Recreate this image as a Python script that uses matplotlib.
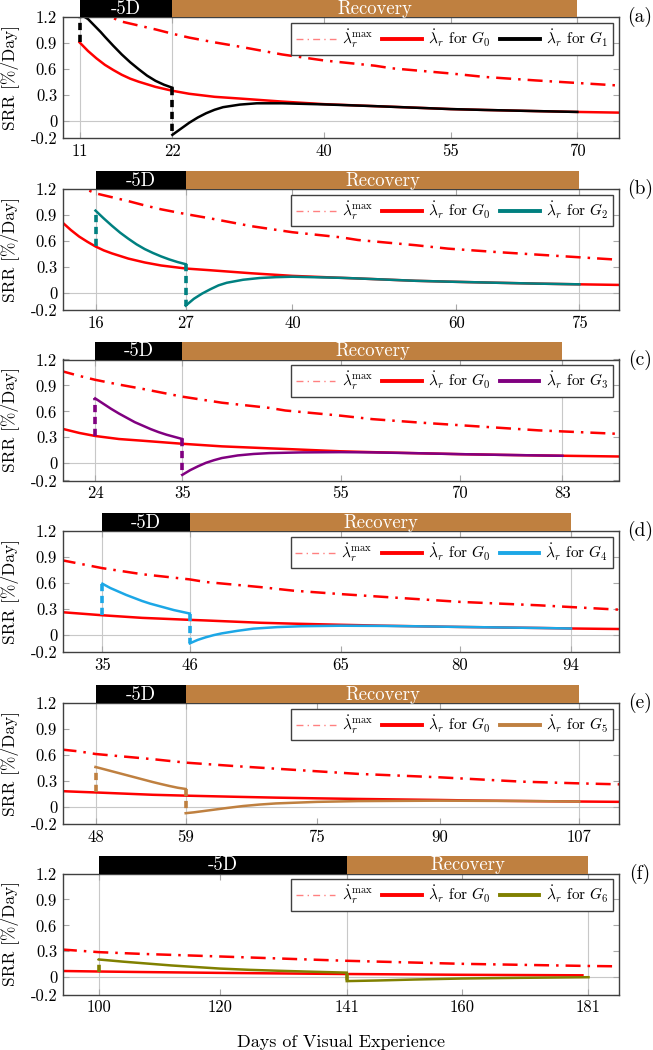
import numpy as np
import matplotlib.pyplot as plt
from matplotlib.lines import Line2D
from matplotlib.patches import Rectangle
import matplotlib.transforms as mtransforms

plt.rcParams['font.family'] = 'cmr10'
plt.rcParams['mathtext.fontset'] = 'cm'
plt.rcParams['axes.unicode_minus'] = False
plt.rcParams['axes.formatter.use_mathtext'] = True

# maximum rate, same curve in every panel
max_days = [9, 13, 15, 16, 20, 22, 24, 27, 30, 35, 40, 46, 48, 55, 59, 65, 70, 75, 80, 90, 94,
            100, 107, 120, 141, 160, 181, 187]
max_srr = [1.36, 1.235, 1.19, 1.15, 1.06, 1.01, 0.965, 0.91, 0.86, 0.77, 0.70, 0.64, 0.61, 0.55,
           0.51, 0.47, 0.44, 0.41, 0.38, 0.34, 0.32, 0.29, 0.27, 0.24, 0.19, 0.155, 0.13, 0.125]

# rate for G0
g0_days = [11, 12, 13, 14, 15, 16, 17, 18, 19, 20, 22, 24, 27, 30, 35, 40, 46, 48, 55, 59, 65,
           70, 75, 80, 90, 94, 100, 107, 120, 141, 160, 180]
g0_srr = [0.91, 0.81, 0.725, 0.65, 0.59, 0.535, 0.49, 0.455, 0.425, 0.395, 0.35, 0.315, 0.28,
          0.26, 0.225, 0.195, 0.172, 0.165, 0.138, 0.128, 0.115, 0.105, 0.097, 0.09, 0.078, 0.072,
          0.066, 0.06, 0.05, 0.037, 0.028, 0.022]

# groups G1..G6: during -5D and during recovery
g1_minus_days = [11, 11.5, 12, 12.5, 13, 13.5, 14, 15, 16, 17, 18, 19, 20, 21, 22]
g1_minus_srr = [1.22, 1.21, 1.18, 1.13, 1.08, 1.03, 0.975, 0.87, 0.77, 0.68, 0.60, 0.525, 0.465,
                0.42, 0.385]
g1_rec_days = [22, 23, 24, 25, 26, 27, 28, 30, 32, 35, 40, 46, 55, 59, 65, 70]
g1_rec_srr = [-0.16, -0.09, -0.02, 0.04, 0.09, 0.13, 0.16, 0.19, 0.205, 0.205, 0.192, 0.172, 0.138,
              0.128, 0.115, 0.105]

g2_minus_days = [16, 17, 18, 19, 20, 21, 22, 23, 24, 25, 26, 27]
g2_minus_srr = [0.95, 0.86, 0.775, 0.695, 0.625, 0.56, 0.505, 0.46, 0.42, 0.385, 0.355, 0.33]
g2_rec_days = [27, 28, 29, 30, 31, 32, 34, 36, 38, 40, 46, 48, 55, 59, 65, 70, 75]
g2_rec_srr = [-0.15, -0.07, -0.01, 0.04, 0.085, 0.115, 0.15, 0.17, 0.18, 0.185, 0.172, 0.165, 0.138,
              0.128, 0.115, 0.105, 0.097]

g3_minus_days = [24, 25, 26, 27, 28, 29, 30, 31, 32, 33, 34, 35]
g3_minus_srr = [0.75, 0.69, 0.63, 0.575, 0.525, 0.475, 0.435, 0.395, 0.36, 0.33, 0.305, 0.28]
g3_rec_days = [35, 36, 37, 38, 39, 40, 42, 44, 46, 50, 55, 59, 65, 70, 75, 80, 83]
g3_rec_srr = [-0.135, -0.08, -0.035, 0.005, 0.035, 0.06, 0.09, 0.107, 0.117, 0.125, 0.128, 0.125,
              0.115, 0.105, 0.097, 0.09, 0.086]

g4_minus_days = [35, 36, 37, 38, 39, 40, 41, 42, 43, 44, 45, 46]
g4_minus_srr = [0.59, 0.54, 0.50, 0.46, 0.425, 0.39, 0.36, 0.335, 0.31, 0.285, 0.265, 0.245]
g4_rec_days = [46, 47, 48, 49, 50, 52, 54, 57, 60, 65, 70, 75, 80, 90, 94]
g4_rec_srr = [-0.10, -0.06, -0.03, -0.005, 0.015, 0.045, 0.07, 0.088, 0.098, 0.104, 0.102, 0.097,
              0.09, 0.078, 0.072]

g5_minus_days = [48, 49, 50, 51, 52, 53, 54, 55, 56, 57, 58, 59]
g5_minus_srr = [0.46, 0.435, 0.41, 0.385, 0.36, 0.335, 0.31, 0.285, 0.262, 0.24, 0.22, 0.205]
g5_rec_days = [59, 60, 62, 64, 66, 68, 70, 75, 80, 90, 100, 107]
g5_rec_srr = [-0.075, -0.065, -0.04, -0.015, 0.008, 0.025, 0.038, 0.056, 0.065, 0.07, 0.066, 0.06]

g6_minus_days = [100, 104, 108, 112, 116, 120, 125, 130, 135, 141]
g6_minus_srr = [0.205, 0.18, 0.158, 0.136, 0.118, 0.10, 0.085, 0.074, 0.064, 0.053]
g6_rec_days = [141, 146, 152, 160, 170, 181]
g6_rec_srr = [-0.045, -0.038, -0.027, -0.015, -0.007, 0.0]

minus_days = [g1_minus_days, g2_minus_days, g3_minus_days, g4_minus_days, g5_minus_days, g6_minus_days]
minus_srr = [g1_minus_srr, g2_minus_srr, g3_minus_srr, g4_minus_srr, g5_minus_srr, g6_minus_srr]
rec_days = [g1_rec_days, g2_rec_days, g3_rec_days, g4_rec_days, g5_rec_days, g6_rec_days]
rec_srr = [g1_rec_srr, g2_rec_srr, g3_rec_srr, g4_rec_srr, g5_rec_srr, g6_rec_srr]

panel_names = ['(a)', '(b)', '(c)', '(d)', '(e)', '(f)']
group_names = ['$G_1$', '$G_2$', '$G_3$', '$G_4$', '$G_5$', '$G_6$']
group_colors = ['black', '#008080', '#800080', '#1ca7e6', '#bf8040', '#808000']
start_days = [11, 16, 24, 35, 48, 100]
recovery_days = [22, 27, 35, 46, 59, 141]
end_days = [70, 75, 83, 94, 107, 181]
x_ticks = [[11, 22, 40, 55, 70], [16, 27, 40, 60, 75], [24, 35, 55, 70, 83],
           [35, 46, 65, 80, 94], [48, 59, 75, 90, 107], [100, 120, 141, 160, 181]]
x_limits = [(9.0, 74.9), (12.0, 79.8), (19.9, 90.1), (30.0, 100.0), (44.0, 111.8), (94.0, 186.0)]
y_ticks = [-0.2, 0, 0.3, 0.6, 0.9, 1.2]
y_ticklabels = ['-0.2', '0', '0.3', '0.6', '0.9', '1.2']

W, H = 653, 1050
fig = plt.figure(figsize=(W / 100, H / 100), dpi=100)

ax_left = 62.7
ax_right = 618.7
ax_h = 121.0
ax_tops = [17.3, 189.0, 359.5, 531.0, 703.0, 873.5]

dashdot = (0, (6, 2.8, 1, 2.8))
dashed = (0, (2.0, 1.3))
brown = '#bf8040'
gridc = '#c8c8c8'

for i in range(6):
    top = ax_tops[i]
    ax = fig.add_axes([ax_left / W, 1 - (top + ax_h) / H, (ax_right - ax_left) / W, ax_h / H])
    ax.set_xlim(*x_limits[i])
    ax.set_ylim(-0.2, 1.2)
    c = group_colors[i]
    s, r, e = start_days[i], recovery_days[i], end_days[i]

    for d in (s, r, e):
        ax.axvline(d, color=gridc, lw=0.8, zorder=0)
    ax.axhline(0, color=gridc, lw=0.8, zorder=0)

    ax.plot(max_days, max_srr, color='red', lw=1.8, ls=dashdot)
    ax.plot(g0_days, g0_srr, color='red', lw=1.8)

    g0_start = np.interp(s, g0_days, g0_srr)
    ax.plot([s, s], [g0_start, minus_srr[i][0]], color=c, lw=2.6, ls=dashed)
    ax.plot(minus_days[i], minus_srr[i], color=c, lw=1.8)
    ax.plot([r, r], [minus_srr[i][-1], rec_srr[i][0]], color=c, lw=2.6, ls=dashed)
    ax.plot(rec_days[i], rec_srr[i], color=c, lw=1.8)

    ax.set_xticks(x_ticks[i])
    ax.set_xticklabels([str(t) for t in x_ticks[i]])
    ax.set_yticks(y_ticks)
    ax.set_yticklabels(y_ticklabels)
    ax.tick_params(direction='in', length=4, width=0.8, color='#a8a8a8',
                   top=True, right=True, labelsize=12, pad=4)
    for sp in ax.spines.values():
        sp.set_color('#404040')
        sp.set_linewidth(1.0)

    # banners above the axes
    trans = mtransforms.blended_transform_factory(ax.transData, ax.transAxes)
    bh = 18.0 / ax_h
    base = 1.0 + 3.5 / ax_h
    ax.add_patch(Rectangle((s, 1.0), r - s, bh, transform=trans, facecolor='black',
                           edgecolor='none', clip_on=False, zorder=5))
    ax.add_patch(Rectangle((r, 1.0), e - r, bh, transform=trans, facecolor=brown,
                           edgecolor='none', clip_on=False, zorder=5))
    ax.text((s + r) / 2, base, '-5D', transform=trans, color='white', fontsize=13.5,
            ha='center', va='baseline', zorder=6, clip_on=False)
    ax.text((r + e) / 2, base, 'Recovery', transform=trans, color='white', fontsize=13.5,
            ha='center', va='baseline', zorder=6, clip_on=False)

    handles = [Line2D([], [], color='#ff8080', lw=1.0, ls=(0, (5, 3, 1, 3))),
               Line2D([], [], color='red', lw=2.8),
               Line2D([], [], color=c, lw=2.8)]
    labels = [r'$\dot{\lambda}_r^{\max}$', r'$\dot{\lambda}_r$ for $G_0$',
              r'$\dot{\lambda}_r$ for ' + group_names[i]]
    leg = ax.legend(handles, labels, loc='upper right', ncol=3, fontsize=11, frameon=True,
                    fancybox=False, edgecolor='#404040', framealpha=1, borderaxespad=0.38,
                    handlelength=2.6, columnspacing=0.6, handletextpad=0.4, borderpad=0.3)
    leg.get_frame().set_linewidth(1.0)
    leg.set_zorder(7)

    fig.text(640 / W, 1 - top / H, panel_names[i], ha='center', va='center', fontsize=14)
    fig.text(10 / W, 1 - (top + ax_h / 2) / H, 'SRR [%/Day]', rotation=90,
             ha='center', va='center', fontsize=12.5)

fig.text((ax_left + ax_right) / 2 / W, 1 - 1042 / H, 'Days of Visual Experience',
         ha='center', va='center', fontsize=13)

fig.savefig('out.png', dpi=100)
